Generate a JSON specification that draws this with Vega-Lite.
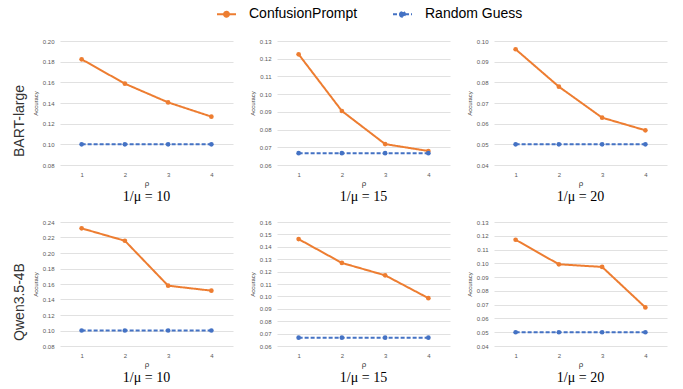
{
  "$schema": "https://vega.github.io/schema/vega-lite/v6.json",
  "padding": {"left": 13, "top": 3, "right": 3, "bottom": 2},
  "background": "white",
  "datasets": {
    "d": [
      {"model": "BART-large", "mu": 10, "rho": 1, "series": "ConfusionPrompt", "acc": 0.1823},
      {"model": "BART-large", "mu": 10, "rho": 2, "series": "ConfusionPrompt", "acc": 0.1587},
      {"model": "BART-large", "mu": 10, "rho": 3, "series": "ConfusionPrompt", "acc": 0.1406},
      {"model": "BART-large", "mu": 10, "rho": 4, "series": "ConfusionPrompt", "acc": 0.1268},
      {"model": "BART-large", "mu": 10, "rho": 1, "series": "Random Guess", "acc": 0.1},
      {"model": "BART-large", "mu": 10, "rho": 2, "series": "Random Guess", "acc": 0.1},
      {"model": "BART-large", "mu": 10, "rho": 3, "series": "Random Guess", "acc": 0.1},
      {"model": "BART-large", "mu": 10, "rho": 4, "series": "Random Guess", "acc": 0.1},
      {"model": "BART-large", "mu": 15, "rho": 1, "series": "ConfusionPrompt", "acc": 0.1225},
      {"model": "BART-large", "mu": 15, "rho": 2, "series": "ConfusionPrompt", "acc": 0.0905},
      {"model": "BART-large", "mu": 15, "rho": 3, "series": "ConfusionPrompt", "acc": 0.0718},
      {"model": "BART-large", "mu": 15, "rho": 4, "series": "ConfusionPrompt", "acc": 0.0679},
      {"model": "BART-large", "mu": 15, "rho": 1, "series": "Random Guess", "acc": 0.0667},
      {"model": "BART-large", "mu": 15, "rho": 2, "series": "Random Guess", "acc": 0.0667},
      {"model": "BART-large", "mu": 15, "rho": 3, "series": "Random Guess", "acc": 0.0667},
      {"model": "BART-large", "mu": 15, "rho": 4, "series": "Random Guess", "acc": 0.0667},
      {"model": "BART-large", "mu": 20, "rho": 1, "series": "ConfusionPrompt", "acc": 0.096},
      {"model": "BART-large", "mu": 20, "rho": 2, "series": "ConfusionPrompt", "acc": 0.0779},
      {"model": "BART-large", "mu": 20, "rho": 3, "series": "ConfusionPrompt", "acc": 0.0629},
      {"model": "BART-large", "mu": 20, "rho": 4, "series": "ConfusionPrompt", "acc": 0.0568},
      {"model": "BART-large", "mu": 20, "rho": 1, "series": "Random Guess", "acc": 0.05},
      {"model": "BART-large", "mu": 20, "rho": 2, "series": "Random Guess", "acc": 0.05},
      {"model": "BART-large", "mu": 20, "rho": 3, "series": "Random Guess", "acc": 0.05},
      {"model": "BART-large", "mu": 20, "rho": 4, "series": "Random Guess", "acc": 0.05},
      {"model": "Qwen3.5-4B", "mu": 10, "rho": 1, "series": "ConfusionPrompt", "acc": 0.2318},
      {"model": "Qwen3.5-4B", "mu": 10, "rho": 2, "series": "ConfusionPrompt", "acc": 0.2158},
      {"model": "Qwen3.5-4B", "mu": 10, "rho": 3, "series": "ConfusionPrompt", "acc": 0.1578},
      {"model": "Qwen3.5-4B", "mu": 10, "rho": 4, "series": "ConfusionPrompt", "acc": 0.1514},
      {"model": "Qwen3.5-4B", "mu": 10, "rho": 1, "series": "Random Guess", "acc": 0.1},
      {"model": "Qwen3.5-4B", "mu": 10, "rho": 2, "series": "Random Guess", "acc": 0.1},
      {"model": "Qwen3.5-4B", "mu": 10, "rho": 3, "series": "Random Guess", "acc": 0.1},
      {"model": "Qwen3.5-4B", "mu": 10, "rho": 4, "series": "Random Guess", "acc": 0.1},
      {"model": "Qwen3.5-4B", "mu": 15, "rho": 1, "series": "ConfusionPrompt", "acc": 0.1462},
      {"model": "Qwen3.5-4B", "mu": 15, "rho": 2, "series": "ConfusionPrompt", "acc": 0.127},
      {"model": "Qwen3.5-4B", "mu": 15, "rho": 3, "series": "ConfusionPrompt", "acc": 0.117},
      {"model": "Qwen3.5-4B", "mu": 15, "rho": 4, "series": "ConfusionPrompt", "acc": 0.0986},
      {"model": "Qwen3.5-4B", "mu": 15, "rho": 1, "series": "Random Guess", "acc": 0.0667},
      {"model": "Qwen3.5-4B", "mu": 15, "rho": 2, "series": "Random Guess", "acc": 0.0667},
      {"model": "Qwen3.5-4B", "mu": 15, "rho": 3, "series": "Random Guess", "acc": 0.0667},
      {"model": "Qwen3.5-4B", "mu": 15, "rho": 4, "series": "Random Guess", "acc": 0.0667},
      {"model": "Qwen3.5-4B", "mu": 20, "rho": 1, "series": "ConfusionPrompt", "acc": 0.1171},
      {"model": "Qwen3.5-4B", "mu": 20, "rho": 2, "series": "ConfusionPrompt", "acc": 0.0993},
      {"model": "Qwen3.5-4B", "mu": 20, "rho": 3, "series": "ConfusionPrompt", "acc": 0.0974},
      {"model": "Qwen3.5-4B", "mu": 20, "rho": 4, "series": "ConfusionPrompt", "acc": 0.068},
      {"model": "Qwen3.5-4B", "mu": 20, "rho": 1, "series": "Random Guess", "acc": 0.05},
      {"model": "Qwen3.5-4B", "mu": 20, "rho": 2, "series": "Random Guess", "acc": 0.05},
      {"model": "Qwen3.5-4B", "mu": 20, "rho": 3, "series": "Random Guess", "acc": 0.05},
      {"model": "Qwen3.5-4B", "mu": 20, "rho": 4, "series": "Random Guess", "acc": 0.05}
    ]
  },
  "data": {"name": "d"},
  "spacing": 15,
  "vconcat": [
    {
      "title": {"text": "BART-large", "orient": "left", "anchor": "middle", "font": "Liberation Sans", "fontSize": 14, "color": "#333333", "offset": 5},
      "spacing": 16,
      "hconcat": [
        {
          "width": 173, "height": 124,
          "title": {"text": "1/μ = 10"},
          "transform": [{"filter": "datum.model == 'BART-large' && datum.mu == 10"}],
          "mark": {"type": "line", "strokeWidth": 2, "point": {"filled": true, "size": 22}},
          "encoding": {
            "x": {"field": "rho", "type": "ordinal", "scale": {"type": "point", "padding": 0.5}, "axis": {"title": "ρ"}},
            "y": {"field": "acc", "type": "quantitative", "scale": {"domain": [0.08, 0.2], "nice": false, "zero": false}, "axis": {"title": "Accuracy", "values": [0.08, 0.1, 0.12, 0.14, 0.16, 0.18, 0.2], "format": ".2f"}},
            "color": {"field": "series", "type": "nominal", "title": null},
            "strokeDash": {"field": "series", "type": "nominal", "title": null}
          }
        },
        {
          "width": 173, "height": 124,
          "title": {"text": "1/μ = 15"},
          "transform": [{"filter": "datum.model == 'BART-large' && datum.mu == 15"}],
          "mark": {"type": "line", "strokeWidth": 2, "point": {"filled": true, "size": 22}},
          "encoding": {
            "x": {"field": "rho", "type": "ordinal", "scale": {"type": "point", "padding": 0.5}, "axis": {"title": "ρ"}},
            "y": {"field": "acc", "type": "quantitative", "scale": {"domain": [0.06, 0.13], "nice": false, "zero": false}, "axis": {"title": "Accuracy", "values": [0.06, 0.07, 0.08, 0.09, 0.1, 0.11, 0.12, 0.13], "format": ".2f"}},
            "color": {"field": "series", "type": "nominal", "title": null},
            "strokeDash": {"field": "series", "type": "nominal", "title": null}
          }
        },
        {
          "width": 173, "height": 124,
          "title": {"text": "1/μ = 20"},
          "transform": [{"filter": "datum.model == 'BART-large' && datum.mu == 20"}],
          "mark": {"type": "line", "strokeWidth": 2, "point": {"filled": true, "size": 22}},
          "encoding": {
            "x": {"field": "rho", "type": "ordinal", "scale": {"type": "point", "padding": 0.5}, "axis": {"title": "ρ"}},
            "y": {"field": "acc", "type": "quantitative", "scale": {"domain": [0.04, 0.1], "nice": false, "zero": false}, "axis": {"title": "Accuracy", "values": [0.04, 0.05, 0.06, 0.07, 0.08, 0.09, 0.1], "format": ".2f"}},
            "color": {"field": "series", "type": "nominal", "title": null},
            "strokeDash": {"field": "series", "type": "nominal", "title": null}
          }
        }
      ]
    },
    {
      "title": {"text": "Qwen3.5-4B", "orient": "left", "anchor": "middle", "font": "Liberation Sans", "fontSize": 14, "color": "#333333", "offset": 5},
      "spacing": 16,
      "hconcat": [
        {
          "width": 173, "height": 124,
          "title": {"text": "1/μ = 10"},
          "transform": [{"filter": "datum.model == 'Qwen3.5-4B' && datum.mu == 10"}],
          "mark": {"type": "line", "strokeWidth": 2, "point": {"filled": true, "size": 22}},
          "encoding": {
            "x": {"field": "rho", "type": "ordinal", "scale": {"type": "point", "padding": 0.5}, "axis": {"title": "ρ"}},
            "y": {"field": "acc", "type": "quantitative", "scale": {"domain": [0.08, 0.24], "nice": false, "zero": false}, "axis": {"title": "Accuracy", "values": [0.08, 0.1, 0.12, 0.14, 0.16, 0.18, 0.2, 0.22, 0.24], "format": ".2f"}},
            "color": {"field": "series", "type": "nominal", "title": null},
            "strokeDash": {"field": "series", "type": "nominal", "title": null}
          }
        },
        {
          "width": 173, "height": 124,
          "title": {"text": "1/μ = 15"},
          "transform": [{"filter": "datum.model == 'Qwen3.5-4B' && datum.mu == 15"}],
          "mark": {"type": "line", "strokeWidth": 2, "point": {"filled": true, "size": 22}},
          "encoding": {
            "x": {"field": "rho", "type": "ordinal", "scale": {"type": "point", "padding": 0.5}, "axis": {"title": "ρ"}},
            "y": {"field": "acc", "type": "quantitative", "scale": {"domain": [0.06, 0.16], "nice": false, "zero": false}, "axis": {"title": "Accuracy", "values": [0.06, 0.07, 0.08, 0.09, 0.1, 0.11, 0.12, 0.13, 0.14, 0.15, 0.16], "format": ".2f"}},
            "color": {"field": "series", "type": "nominal", "title": null},
            "strokeDash": {"field": "series", "type": "nominal", "title": null}
          }
        },
        {
          "width": 173, "height": 124,
          "title": {"text": "1/μ = 20"},
          "transform": [{"filter": "datum.model == 'Qwen3.5-4B' && datum.mu == 20"}],
          "mark": {"type": "line", "strokeWidth": 2, "point": {"filled": true, "size": 22}},
          "encoding": {
            "x": {"field": "rho", "type": "ordinal", "scale": {"type": "point", "padding": 0.5}, "axis": {"title": "ρ"}},
            "y": {"field": "acc", "type": "quantitative", "scale": {"domain": [0.04, 0.13], "nice": false, "zero": false}, "axis": {"title": "Accuracy", "values": [0.04, 0.05, 0.06, 0.07, 0.08, 0.09, 0.1, 0.11, 0.12, 0.13], "format": ".2f"}},
            "color": {"field": "series", "type": "nominal", "title": null},
            "strokeDash": {"field": "series", "type": "nominal", "title": null}
          }
        }
      ]
    }
  ],
  "resolve": {"scale": {"x": "independent", "y": "independent", "color": "shared", "strokeDash": "shared"}},
  "config": {
    "view": {"stroke": null},
    "font": "Liberation Sans",
    "range": {
      "category": ["#ED7D31", "#4472C4"],
      "strokeDash": [[1, 0], [1.3, 1]]
    },
    "axis": {
      "domain": false, "ticks": false,
      "labelFont": "Liberation Sans", "labelFontSize": 6, "labelColor": "#595959",
      "titleFont": "Liberation Sans", "titleFontSize": 6, "titleFontWeight": "normal", "titleColor": "#404040",
      "gridColor": "#d9d9d9", "gridWidth": 0.8
    },
    "axisX": {"grid": false, "labelAngle": 0, "labelPadding": 6, "titleFontSize": 8, "titlePadding": 2},
    "axisY": {"labelPadding": 6, "titlePadding": 4},
    "title": {"orient": "bottom", "font": "Liberation Serif", "fontSize": 14, "fontWeight": "normal", "color": "#000000", "offset": 3},
    "legend": {
      "orient": "none", "direction": "horizontal", "legendX": 156, "legendY": -37.5,
      "labelFont": "Liberation Sans", "labelFontSize": 14, "labelColor": "#000000",
      "symbolType": "M-1,0L1,0M-0.26,0A0.26,0.26 0 1,0 0.26,0A0.26,0.26 0 1,0 -0.26,0",
      "symbolStrokeWidth": 2, "symbolSize": 361,
      "columnPadding": 31, "labelOffset": 12
    }
  }
}
